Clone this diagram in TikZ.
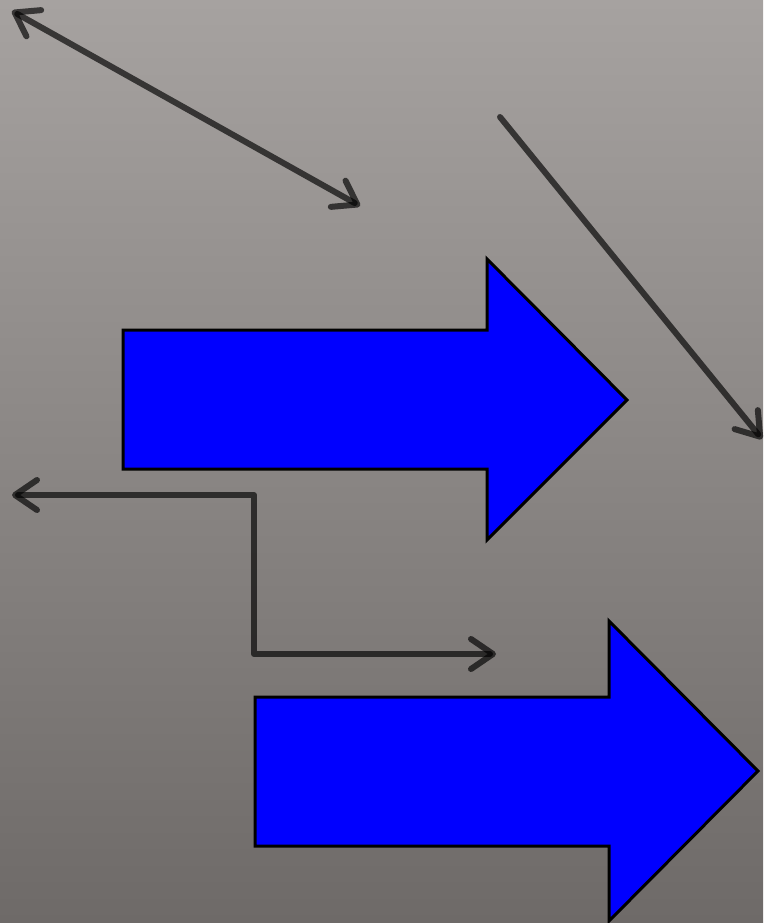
\documentclass[tikz,border=0pt]{standalone}
\usetikzlibrary{arrows.meta,positioning}
\definecolor{bgtop}{HTML}{A6A2A0}
\definecolor{bgbot}{HTML}{6E6A68}

\begin{document}
\begin{tikzpicture}
  [x=1pt,y=-1pt,
   barb/.tip={Straight Barb[length=22pt,width=30pt,round,line width=6pt]},
   conn/.style={draw=black,draw opacity=.66,line width=6pt,line cap=round,line join=round},
   bigarrow/.style={fill=blue,draw=black,line width=3pt,line join=miter}]

  \shade[top color=bgtop,bottom color=bgbot] (0,0) rectangle (763,923);
  \useasboundingbox (0,0) rectangle (763,923);

  \coordinate (a1) at (12,11);
  \coordinate (a2) at (360,206);
  \coordinate (b1) at (500,117);
  \coordinate (b2) at (762,439);
  \coordinate (c1) at (12,495);
  \coordinate (c2) at (254,495);
  \coordinate (c3) at (254,654);
  \coordinate (c4) at (496,654);

  % blue arrows
  \draw[bigarrow] (123,330) -- (487,330) -- (487,259) -- (627,400)
    -- (487,540) -- (487,469) -- (123,469) -- cycle;
  \draw[bigarrow] (255,697) -- (609,697) -- (609,621) -- (758,771)
    -- (609,921) -- (609,846) -- (255,846) -- cycle;

  % connectors
  \draw[conn,barb-barb] (a1) -- (a2);
  \draw[conn,-barb] (b1) -- (b2);
  \draw[conn,barb-barb] (c1) -- (c2) -- (c3) -- (c4);
\end{tikzpicture}
\end{document}
